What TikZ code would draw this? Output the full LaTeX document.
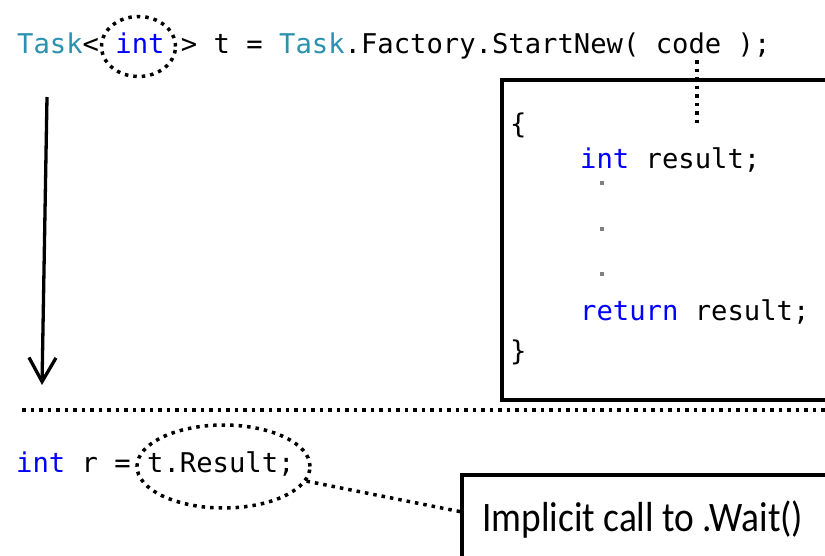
\documentclass[tikz,border=0pt]{standalone}
\usepackage{fontspec}
\usepackage{graphicx}
\newfontfamily\codefont{DejaVu Sans Mono}
\newfontfamily\notefont{Carlito}
\usetikzlibrary{shapes.geometric,arrows.meta,calc}
\definecolor{typeteal}{HTML}{2B91AF}
\definecolor{kwblue}{HTML}{0000FF}
\definecolor{elide}{HTML}{808080}

\begin{document}
\begin{tikzpicture}[x=1pt,y=-1pt,
  code/.style={font=\codefont\fontsize{27.2}{30}\selectfont, inner sep=0pt, anchor=base west},
  dotline/.style={line width=3.5pt, dash pattern=on 3.5pt off 5pt},
  ring/.style={ellipse, draw, dotline, inner sep=0pt},
  frame/.style={draw, line width=4.5pt, rectangle, anchor=north west, inner sep=0pt, outer sep=0pt},
  gapdot/.style={rectangle, fill=elide, minimum size=3.5pt, inner sep=0pt}]
\useasboundingbox (0,0) rectangle (825,555);
\clip (0,0) rectangle (825,555);
\fill[white] (0,0) rectangle (825,555);

% first statement and the generic argument
\node[code] (line1) at (17,53) {\textcolor{typeteal}{Task}<{} \textcolor{kwblue}{int} > t = \textcolor{typeteal}{Task}.Factory.StartNew( code );};
\node[ring, minimum width=74pt, minimum height=60pt] (intring) at (138.5,46.5) {};

% lambda body
\node[frame, minimum width=400pt, minimum height=320pt] (body) at (502,80) {};
\coordinate (codeword) at (697,60);
\coordinate (codeinto) at (697,127);
\draw[dotline] (codeword) -- (codeinto);
\node[code] (obrace) at (510,133) {\{};
\node[code] (decl) at (580,168) {\textcolor{kwblue}{int} result;};
\node[gapdot] (gap1) at (602,183) {};
\node[gapdot] (gap2) at (602,229) {};
\node[gapdot] (gap3) at (602,274) {};
\node[code] (ret) at (580,320) {\textcolor{kwblue}{return} result;};
\node[code] (cbrace) at (510,360) {\}};

% flow of time
\coordinate (flowtop) at (47,97);
\coordinate (flowend) at (42,385);
\draw[line width=3.3pt, -{Straight Barb[length=24pt,width=27pt]}] (flowtop) -- (flowend);

% separator
\coordinate (sepL) at (22,410);
\coordinate (sepR) at (828,410);
\draw[dotline] (sepL) -- (sepR);

% second statement
\node[code] (line2) at (16,472) {\textcolor{kwblue}{int} r = t.Result;};
\node[ring, minimum width=173pt, minimum height=83pt] (resring) at (223.5,466.5) {};

% note box
\node[frame, minimum width=400pt, minimum height=120pt] (note) at (462,475) {};
\node[font=\notefont\fontsize{42}{46}\selectfont, inner sep=0pt, anchor=base west] (notetext) at (482,531) {\scalebox{0.89}[1]{Implicit call to .Wait()}};
\draw[dotline] (resring.-10) -- ($(note.north west)+(0,37)$);
\end{tikzpicture}
\end{document}
